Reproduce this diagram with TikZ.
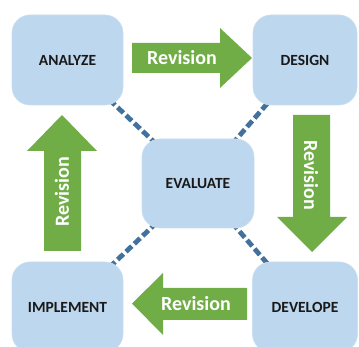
\documentclass[tikz,border=0pt]{standalone}
\usepackage{fontspec}
\setmainfont{Carlito}
\definecolor{boxblue}{HTML}{BDD7EE}
\definecolor{arrgreen}{HTML}{70AD47}
\definecolor{dashblue}{HTML}{41719C}
\tikzset{
  stagebox/.style={fill=boxblue, draw=boxblue!80!white, line width=0.6pt, rounded corners=18pt, minimum height=90pt, font=\bfseries\fontsize{15.5}{17}\selectfont, text=black!90},
  revtext/.style={text=white, font=\bfseries\fontsize{20}{22}\selectfont},
  link/.style={draw=dashblue, line width=4.8pt, dash pattern=on 8pt off 3.5pt},
  revarrow/.style={fill=arrgreen}
}
\begin{document}
\begin{tikzpicture}[x=1pt,y=-1pt]
\useasboundingbox (0,0) rectangle (359,347);
\clip (0,0) rectangle (359,347);
% centres for links
\coordinate (ca) at (67.5,60);
\coordinate (cd) at (305,60);
\coordinate (ce) at (198,183.5);
\coordinate (ci) at (67.5,307);
\coordinate (cv) at (305,307);
\draw[link] (ca) -- (ce);
\draw[link] (cd) -- (ce);
\draw[link] (ci) -- (ce);
\draw[link] (cv) -- (ce);
% boxes
\node[stagebox, minimum width=111pt] (analyze) at (ca) {ANALYZE};
\node[stagebox, minimum width=104pt] (design) at (cd) {DESIGN};
\node[stagebox, minimum width=112pt, minimum height=89pt] (evaluate) at (ce) {EVALUATE};
\node[stagebox, minimum width=111pt] (implement) at (ci) {IMPLEMENT};
\node[stagebox, minimum width=105pt] (develope) at (cv) {DEVELOPE};
% arrows
\fill[revarrow] (132,43) -- (220,43) -- (220,28) -- (252,58) -- (220,88) -- (220,73) -- (132,73) -- cycle;
\fill[revarrow] (293,115) -- (330,115) -- (330,217) -- (347,217) -- (312,252) -- (277,217) -- (293,217) -- cycle;
\fill[revarrow] (247,288) -- (163,288) -- (163,273) -- (132,303.5) -- (163,335) -- (163,320) -- (247,320) -- cycle;
\fill[revarrow] (44,251) -- (44,151) -- (27,151) -- (62,115) -- (97,151) -- (81,151) -- (81,251) -- cycle;
\node[revtext] (rtop) at (182,58) {Revision};
\node[revtext, rotate=-90] (rright) at (311,175) {Revision};
\node[revtext] (rbottom) at (196,303.5) {Revision};
\node[revtext, rotate=90] (rleft) at (62,192) {Revision};
\end{tikzpicture}
\end{document}
